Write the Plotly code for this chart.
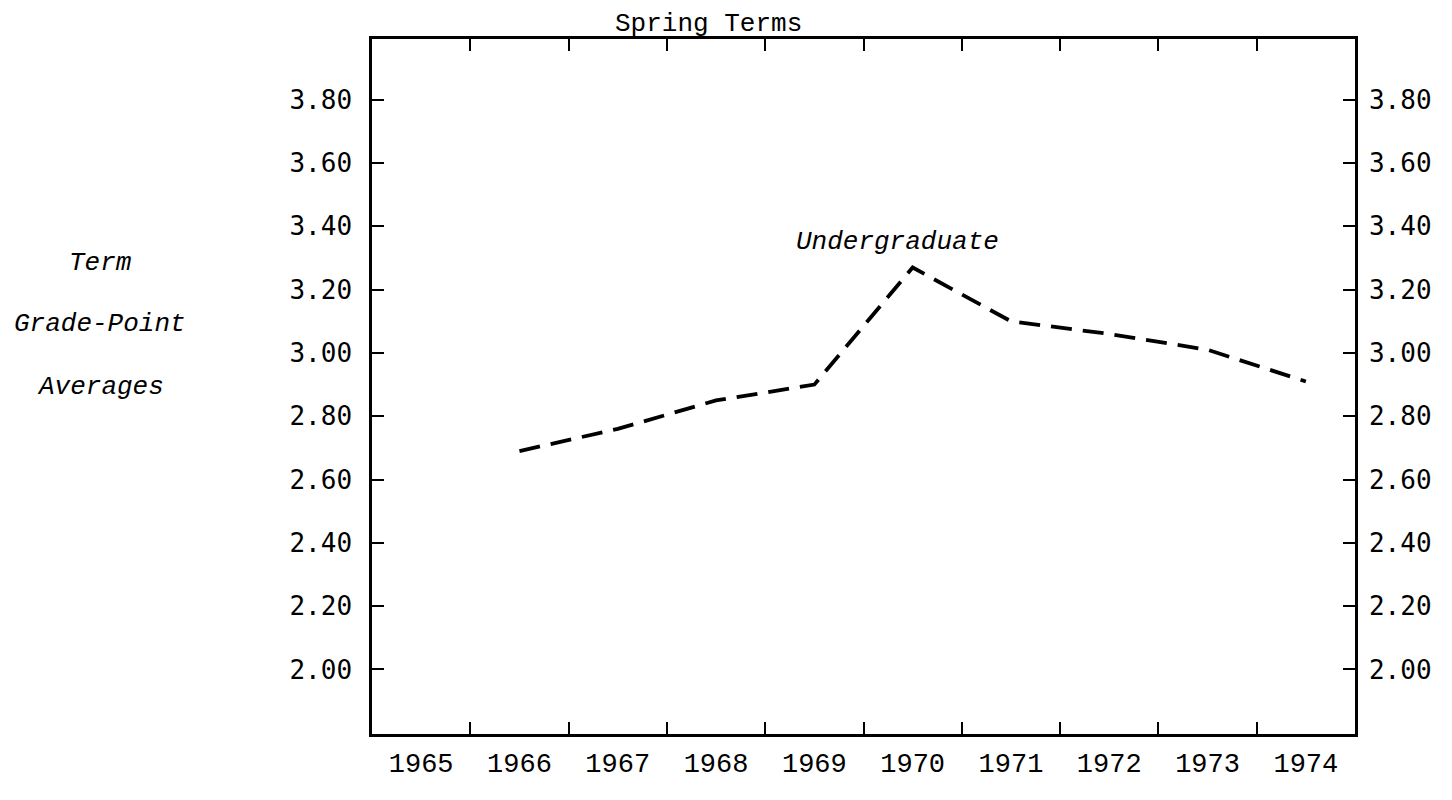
import plotly.graph_objects as go

# ---- data ----
years = [1966, 1967, 1968, 1969, 1970, 1971, 1972, 1973, 1974]
gpa_undergrad = [2.69, 2.76, 2.85, 2.90, 3.27, 3.10, 3.06, 3.01, 2.91]

year_labels = [1965, 1966, 1967, 1968, 1969, 1970, 1971, 1972, 1973, 1974]
year_boundaries = [1965.5, 1966.5, 1967.5, 1968.5, 1969.5, 1970.5, 1971.5, 1972.5, 1973.5]
y_ticks = [2.00, 2.20, 2.40, 2.60, 2.80, 3.00, 3.20, 3.40, 3.60, 3.80]
y_tick_text = ["2.00", "2.20", "2.40", "2.60", "2.80", "3.00", "3.20", "3.40", "3.60", "3.80"]

X_RANGE = [1964.5, 1974.5]
Y_RANGE = [1.796, 3.992]

mono = "Liberation Mono, Courier New, monospace"
sans_mono = "DejaVu Sans Mono, monospace"

# page body has an 8px margin; compensate so the plot area lands where the reference has it
OFF = 8
W, H = 1452 - 2 * OFF, 800 - 2 * OFF
L, T = 372 - OFF, 39 - OFF
PW, PH = 984, 710
R, B = W - L - PW, H - T - PH

fig = go.Figure()

fig.add_trace(go.Scatter(
    x=years, y=gpa_undergrad, mode="lines",
    line=dict(color="black", width=3.8, dash="21px,11px"),
    hoverinfo="skip", showlegend=False, xaxis="x", yaxis="y",
))
# invisible helpers so the secondary axes render
fig.add_trace(go.Scatter(x=[years[0]], y=[gpa_undergrad[0]], mode="markers",
                         marker=dict(opacity=0), hoverinfo="skip", showlegend=False,
                         xaxis="x2", yaxis="y"))
fig.add_trace(go.Scatter(x=[years[0]], y=[gpa_undergrad[0]], mode="markers",
                         marker=dict(opacity=0), hoverinfo="skip", showlegend=False,
                         xaxis="x", yaxis="y2"))

axis_common = dict(showgrid=False, zeroline=False, linecolor="black", linewidth=2.5,
                   tickcolor="black", tickwidth=2, ticklen=12)

fig.update_layout(
    width=W, height=H,
    margin=dict(l=L, r=R, t=T, b=B),
    paper_bgcolor="white", plot_bgcolor="white",
    showlegend=False,
    xaxis=dict(range=X_RANGE, tickmode="array", tickvals=year_boundaries,
               ticktext=[""] * len(year_boundaries), ticks="inside", showline=True,
               mirror="ticks", **axis_common),
    xaxis2=dict(range=X_RANGE, overlaying="x", matches="x", side="bottom", anchor="y",
                tickmode="array", tickvals=year_labels,
                ticktext=[str(y) for y in year_labels], ticks="", showline=False,
                showgrid=False, zeroline=False, ticklabelstandoff=10,
                tickfont=dict(family=mono, size=27, color="black")),
    yaxis=dict(range=Y_RANGE, tickmode="array", tickvals=y_ticks, ticktext=y_tick_text,
               ticks="inside", showline=True, side="left", ticklabelstandoff=12,
               tickfont=dict(family=sans_mono, size=26, color="black"), **axis_common),
    yaxis2=dict(range=Y_RANGE, overlaying="y", matches="y", side="right", anchor="x",
                tickmode="array", tickvals=y_ticks, ticktext=y_tick_text,
                ticks="inside", showline=True, ticklabelstandoff=6,
                tickfont=dict(family=sans_mono, size=26, color="black"), **axis_common),
)

def px_x(px):
    return (px - 372) / PW

def px_y(py):
    return (749 - py) / PH

fig.add_annotation(text="Spring Terms", xref="paper", yref="paper",
                   x=px_x(709), y=px_y(24), showarrow=False,
                   xanchor="center", yanchor="middle",
                   font=dict(family=mono, size=26, color="black"))
fig.add_annotation(text="<i>Undergraduate</i>", xref="x", yref="y",
                   x=1969.85, y=3.35, showarrow=False, xanchor="center", yanchor="middle",
                   font=dict(family=mono, size=26, color="black"))
for txt, py in [("Term", 268), ("Grade-Point", 330), ("Averages", 395)]:
    fig.add_annotation(text=f"<i>{txt}</i>", xref="paper", yref="paper",
                       x=px_x(100), y=px_y(py), showarrow=False,
                       xanchor="center", yanchor="middle",
                       font=dict(family=mono, size=26, color="black"))

fig.write_html("out.html")
